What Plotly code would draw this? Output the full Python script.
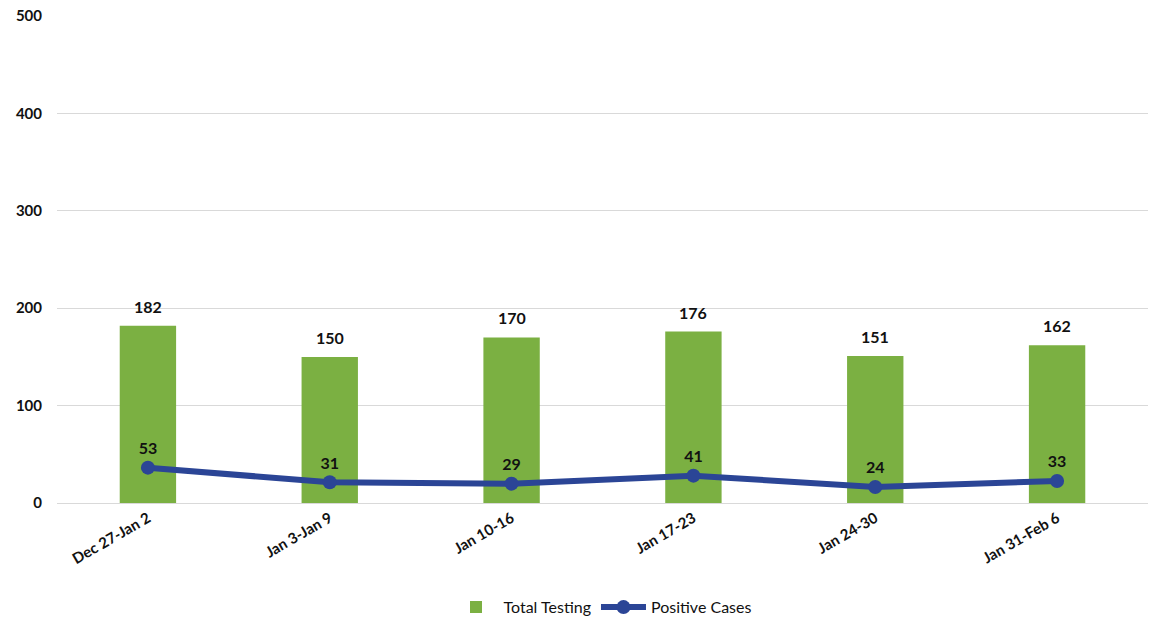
import plotly.graph_objects as go

categories = ["Dec 27-Jan 2", "Jan 3-Jan 9", "Jan 10-16", "Jan 17-23", "Jan 24-30", "Jan 31-Feb 6"]
total_testing = [182, 150, 170, 176, 151, 162]
positive_cases = [53, 31, 29, 41, 24, 33]
y_ticks = [0, 100, 200, 300, 400, 500]

FONT = "Lato"
fig = go.Figure()
fig.add_trace(go.Bar(
    x=categories, y=total_testing, name="Total Testing",
    marker=dict(color="#7BB042", line=dict(width=0)),
    width=0.31,
))
fig.add_trace(go.Scatter(
    x=categories, y=positive_cases, name="Positive Cases", yaxis="y2",
    mode="lines+markers+text",
    line=dict(color="#2B4596", width=6),
    marker=dict(size=14, color="#2B4596"),
    text=[f"<b>{v}</b>" for v in positive_cases], textposition="top center",
    textfont=dict(family=FONT, size=16, color="#111"), cliponaxis=False,
))
for c, v in zip(categories, total_testing):
    fig.add_annotation(x=c, y=v, text=f"<b>{v}</b>", showarrow=False,
                       yanchor="bottom", yshift=8,
                       font=dict(family=FONT, size=16, color="#111"))
fig.update_layout(
    width=1151, height=622,
    margin=dict(l=57, r=3, t=16, b=119, autoexpand=False),
    plot_bgcolor="white", paper_bgcolor="white",
    font=dict(family=FONT, color="#111"),
    showlegend=True,
    legend=dict(orientation="h", x=0.5, xanchor="center", y=-0.214, yanchor="middle",
                font=dict(family=FONT, size=16, color="#111"),
                traceorder="normal", itemwidth=45),
    xaxis=dict(tickangle=-30, tickfont=dict(family=FONT, size=15, color="#111"),
               showgrid=False, showline=True, linecolor="#d9d9d9", ticks="",
               automargin=False,
               tickvals=categories, ticktext=[f"<b>{c}</b>" for c in categories]),
    yaxis=dict(range=[0, 500], tickvals=y_ticks, ticktext=[f"<b>{v}</b>" for v in y_ticks],
               tickfont=dict(family=FONT, size=15, color="#111"),
               showgrid=True, gridcolor="#d9d9d9", gridwidth=1, zeroline=False,
               ticklabelstandoff=14, automargin=False),
    yaxis2=dict(range=[0, 730], overlaying="y", side="right", visible=False, showgrid=False),
)
fig.write_html("out.html", config={"displayModeBar": False},
               post_script="document.body.style.margin='0';document.body.style.overflow='hidden';")
